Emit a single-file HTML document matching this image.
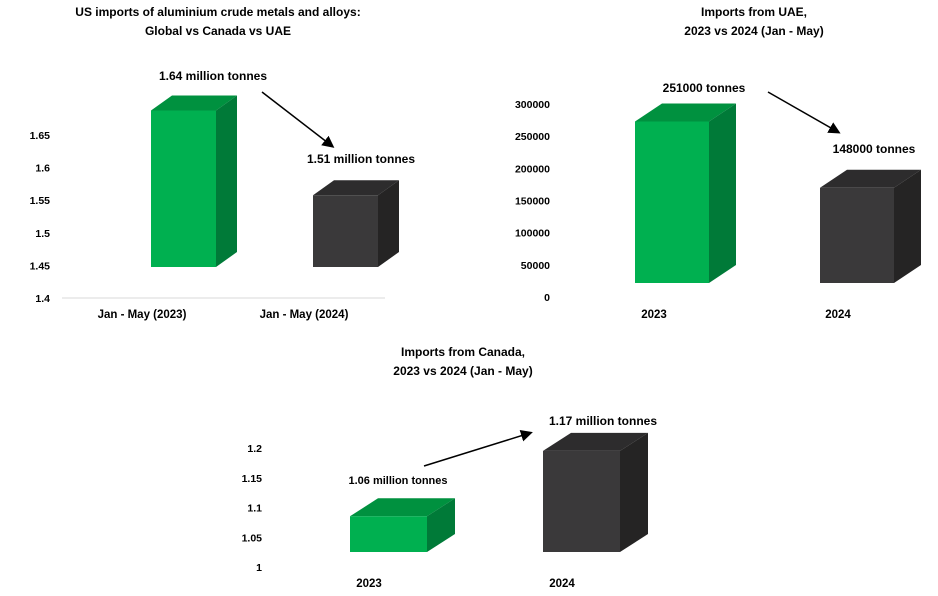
<!DOCTYPE html>
<html><head><meta charset="utf-8"><style>
body{margin:0;background:#fff;}
svg{display:block;font-family:"Liberation Sans",sans-serif;}
text{font-weight:bold;fill:#000;}
</style></head><body>
<svg id="s" width="938" height="596" viewBox="0 0 938 596">
<defs><marker id="ah" markerWidth="8" markerHeight="8" refX="6" refY="4" orient="auto"><path d="M0,0 L8,4 L0,8 z" fill="#000"/></marker></defs>
</svg>
<script>
const globalCats=["Jan - May (2023)","Jan - May (2024)"];
const globalVals=[1.64,1.51];
const globalTicks=[1.4,1.45,1.5,1.55,1.6,1.65];
const uaeCats=["2023","2024"];
const uaeVals=[251000,148000];
const uaeTicks=[0,50000,100000,150000,200000,250000,300000];
const canCats=["2023","2024"];
const canVals=[1.06,1.17];
const canTicks=[1,1.05,1.1,1.15,1.2];

const S=document.getElementById('s');
const NS='http://www.w3.org/2000/svg';
function el(t,a,txt){const e=document.createElementNS(NS,t);for(const k in a)e.setAttribute(k,a[k]);if(txt!==undefined)e.textContent=txt;S.appendChild(e);return e;}
const COL=[{f:"#00b050",s:"#007a38",t:"#00913f"},{f:"#3a393a",s:"#252424",t:"#2d2c2d"}];

function chart(o){
  const y=v=>o.y0-(v-o.vmin)/(o.vmax-o.vmin)*(o.y0-o.y1);
  o.ticks.forEach(t=>{
    const e=el('text',{x:o.tickX,y:y(t)+4,'text-anchor':'end','font-size':10.5},String(t));
    
    
  });
  if(o.axisLine){const l=el('line',{x1:o.axisLine[0],x2:o.axisLine[1],y1:o.y0,y2:o.y0,stroke:'#d9d9d9','stroke-width':1});
    }
  o.vals.forEach((v,i)=>{
    const x=o.bx[i],w=o.bw,c=COL[i];
    const top=y(v)-o.off,bot=y(o.vmin)-o.off;
    const g=document.createElementNS(NS,'g');S.appendChild(g);
    
    
    const mk=(pts,f)=>{const p=document.createElementNS(NS,'polygon');p.setAttribute('points',pts);p.setAttribute('fill',f);g.appendChild(p);};
    mk(`${x},${top} ${x+o.dx},${top-o.dy} ${x+w+o.dx},${top-o.dy} ${x+w},${top}`,c.t);
    mk(`${x+w},${top} ${x+w+o.dx},${top-o.dy} ${x+w+o.dx},${bot-o.dy} ${x+w},${bot}`,c.s);
    mk(`${x},${top} ${x+w},${top} ${x+w},${bot} ${x},${bot}`,c.f);
    const t=el('text',{x:o.lx[i],y:o.ly,'text-anchor':'middle','font-size':11.5},o.cats[i]);
    
    
  });
  o.title.forEach((ln,k)=>{const t=el('text',{x:o.tx,y:o.ty+k*19,'text-anchor':'middle','font-size':12},ln);
    });
  o.ann.forEach(a=>{const t=el('text',{x:a[0],y:a[1],'text-anchor':'middle','font-size':a[3]||12},a[2]);
    });
  const ar=el('line',{x1:o.arrow[0],y1:o.arrow[1],x2:o.arrow[2],y2:o.arrow[3],stroke:'#000','stroke-width':1.5,'marker-end':'url(#ah)'});
  
}
chart({cats:globalCats,vals:globalVals,ticks:globalTicks,vmin:1.4,vmax:1.65,y0:298,y1:135,off:31,tickX:50,
  axisLine:[62,385],bx:[151,313],bw:65,dx:21,dy:15,lx:[142,304],ly:318,
  title:["US imports of aluminium crude metals and alloys:","Global vs Canada vs UAE"],tx:218,ty:16,
  ann:[[213,80,"1.64 million tonnes"],[361,163,"1.51 million tonnes"]],arrow:[262,92,332,146]});
chart({cats:uaeCats,vals:uaeVals,ticks:uaeTicks,vmin:0,vmax:300000,y0:297,y1:104,off:14,tickX:550,
  bx:[635,820],bw:74,dx:27,dy:18,lx:[654,838],ly:318,
  title:["Imports from UAE,","2023 vs 2024 (Jan - May)"],tx:754,ty:16,
  ann:[[704,92,"251000 tonnes"],[874,153,"148000 tonnes"]],arrow:[768,92,838,132]});
chart({cats:canCats,vals:canVals,ticks:canTicks,vmin:1,vmax:1.2,y0:567,y1:448,off:15,tickX:262,
  bx:[350,543],bw:77,dx:28,dy:18,lx:[369,562],ly:587,
  title:["Imports from Canada,","2023 vs 2024 (Jan - May)"],tx:463,ty:356,
  ann:[[398,484,"1.06 million tonnes",11],[603,425,"1.17 million tonnes"]],arrow:[424,466,530,433]});
</script>
</body></html>
